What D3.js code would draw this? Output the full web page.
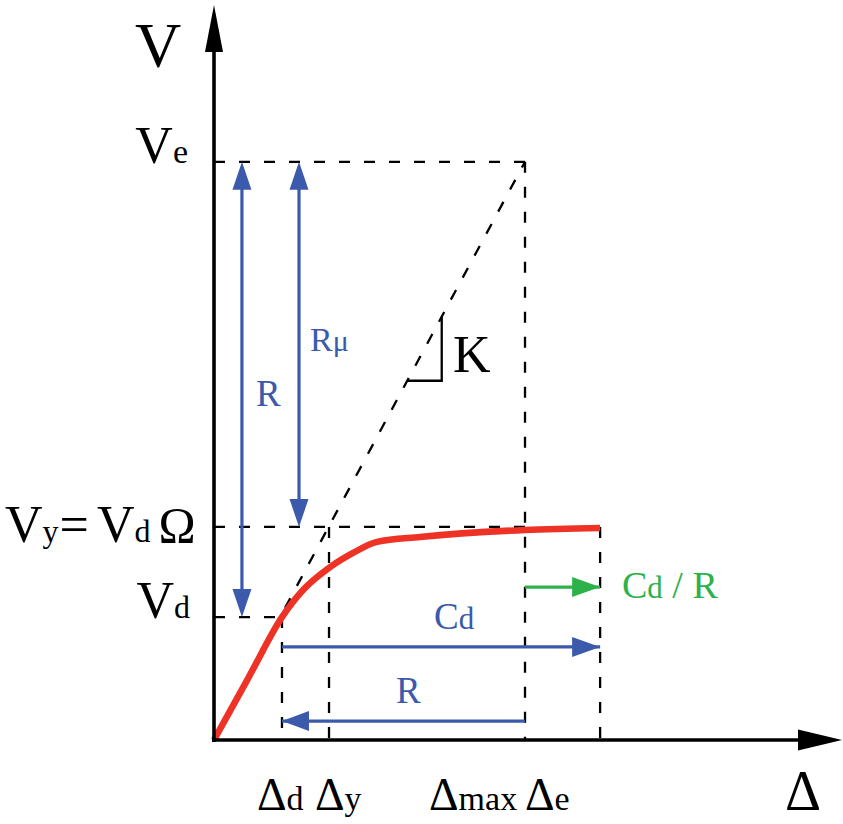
<!DOCTYPE html>
<html>
<head>
<meta charset="utf-8">
<script src="https://cdn.jsdelivr.net/npm/d3@7"></script>
<style>
  html, body { margin: 0; padding: 0; background: #fff; }
  svg { display: block; }
  text { font-family: "Liberation Serif", "Times New Roman", serif; }
</style>
</head>
<body>
<svg id="chart" width="843" height="824"></svg>
<script>
// ---------- data (abstract units: Δy = 1, Vy = 1) ----------
const curveDelta = [0, 0.30, 0.591, 0.774, 1.0, 1.209, 1.417, 1.791, 2.704, 3.357];
const curveV     = [0, 0.293, 0.577, 0.704, 0.808, 0.878, 0.930, 0.953, 0.986, 0.995];

const deltaNames  = ["Δd", "Δy", "Δe", "Δend"];
const deltaValues = [0.591, 1.0, 2.704, 3.357];
const vNames  = ["Vd", "Vy", "Ve"];
const vValues = [0.577, 1.0, 2.714];

const xDomain = [0, 5.46];
const yDomain = [0, 3.45];

// ---------- setup ----------
const svg = d3.select("#chart");
const x = d3.scaleLinear().domain(xDomain).range([214, 842]);
const y = d3.scaleLinear().domain(yDomain).range([740, 5]);

const D = Object.fromEntries(deltaNames.map((n, i) => [n, deltaValues[i]]));
const V = Object.fromEntries(vNames.map((n, i) => [n, vValues[i]]));

const BLUE = "#3b5aab", GREEN = "#2db24b", RED = "#ee3226", BLACK = "#000";

function arrowHead(g, tx, ty, dir, len, wid, color) {
  let pts;
  const h = wid / 2;
  if (dir === "up")    pts = [[tx, ty], [tx - h, ty + len], [tx + h, ty + len]];
  if (dir === "down")  pts = [[tx, ty], [tx - h, ty - len], [tx + h, ty - len]];
  if (dir === "left")  pts = [[tx, ty], [tx + len, ty - h], [tx + len, ty + h]];
  if (dir === "right") pts = [[tx, ty], [tx - len, ty - h], [tx - len, ty + h]];
  g.append("path").attr("d", "M" + pts.map(p => p.join(",")).join("L") + "Z").attr("fill", color);
}

// ---------- dashed guide lines ----------
const dashes = [
  [[0, V.Ve], [D.Δe, V.Ve]],
  [[0, V.Vy], [D.Δe, V.Vy]],
  [[0, V.Vd], [D.Δd, V.Vd]],
  [[D.Δd, V.Vd], [D.Δd, 0]],
  [[D.Δy, V.Vy], [D.Δy, 0]],
  [[D.Δe, V.Ve], [D.Δe, 0]],
  [[D.Δend, V.Vy], [D.Δend, 0]],
  [[0, 0], [D.Δe, V.Ve]]
];
const gDash = svg.append("g");
dashes.forEach(([a, b]) => {
  gDash.append("line")
    .attr("x1", x(a[0])).attr("y1", y(a[1]))
    .attr("x2", x(b[0])).attr("y2", y(b[1]))
    .attr("stroke", BLACK).attr("stroke-width", 2.3)
    .attr("stroke-dasharray", "11,14");
});

// slope triangle K
const kLo = 1.68, kHi = 1.98;
const kSlope = V.Ve / D.Δe;
svg.append("path")
  .attr("d", `M${x(kLo)},${y(kLo * kSlope)}H${x(kHi)}V${y(kHi * kSlope)}`)
  .attr("fill", "none").attr("stroke", BLACK).attr("stroke-width", 2.3);

// ---------- blue / green arrows ----------
const gArr = svg.append("g");
function vArrow(xv, v1, v2, heads, color) {
  const px = x(xv);
  gArr.append("line").attr("x1", px).attr("x2", px)
    .attr("y1", y(v1) + 20).attr("y2", y(v2) - 20)
    .attr("stroke", color).attr("stroke-width", 3.2);
  if (heads.includes("top")) arrowHead(gArr, px, y(v1), "up", 28, 19, color);
  if (heads.includes("bottom")) arrowHead(gArr, px, y(v2), "down", 28, 19, color);
}
function hArrow(vv, d1, d2, head, color) {
  const py = y(vv);
  gArr.append("line").attr("y1", py).attr("y2", py)
    .attr("x1", x(d1)).attr("x2", x(d2))
    .attr("stroke", color).attr("stroke-width", 3.2);
  if (head === "right") arrowHead(gArr, x(d2), py, "right", 28, 20, color);
  if (head === "left") arrowHead(gArr, x(d1), py, "left", 27, 20, color);
}
vArrow(0.243, V.Ve, V.Vd, ["top", "bottom"], BLUE);
vArrow(0.739, V.Ve, V.Vy, ["top", "bottom"], BLUE);
hArrow(0.437, D.Δd, D.Δend, "right", BLUE);
hArrow(0.089, D.Δd, D.Δe, "left", BLUE);
hArrow(0.718, D.Δe, D.Δend, "right", GREEN);

// ---------- red curve ----------
const pts = curveDelta.map((d, i) => [d, curveV[i]]);
svg.append("path")
  .attr("d", d3.line().x(d => x(d[0])).y(d => y(d[1])).curve(d3.curveMonotoneX)(pts))
  .attr("fill", "none").attr("stroke", RED).attr("stroke-width", 6.5)
  .attr("stroke-linejoin", "round");

// ---------- axes ----------
const gAx = svg.append("g");
gAx.append("line").attr("x1", x(0)).attr("x2", x(0)).attr("y1", y(0) + 2).attr("y2", y(yDomain[1]) + 30)
  .attr("stroke", BLACK).attr("stroke-width", 3.6);
arrowHead(gAx, x(0), y(yDomain[1]), "up", 47, 18, BLACK);
gAx.append("line").attr("x1", x(0) - 2).attr("x2", x(xDomain[1]) - 30).attr("y1", y(0)).attr("y2", y(0))
  .attr("stroke", BLACK).attr("stroke-width", 3.6);
arrowHead(gAx, x(xDomain[1]), y(0), "right", 44, 21, BLACK);

// ---------- labels ----------
function label(px, py, parts, opts = {}) {
  const t = svg.append("text").attr("x", px).attr("y", py)
    .attr("text-anchor", opts.anchor || "start")
    .attr("fill", opts.color || BLACK);
  parts.forEach(p => {
    const s = t.append("tspan").text(p.t).attr("font-size", p.s);
    if (p.dx) s.attr("dx", p.dx);
  });
  return t;
}
// axis titles
label(158, 67, [{t: "V", s: 64}], {anchor: "middle"});
label(803, 810, [{t: "Δ", s: 56}], {anchor: "middle"});

// V-axis labels
label(188, 163, [{t: "V", s: 52}, {t: "e", s: 34}], {anchor: "end"});
label(5, 542, [{t: "V", s: 52}, {t: "y", s: 32}, {t: "=", s: 52, dx: 1}, {t: "V", s: 52, dx: 8},
               {t: "d", s: 32}, {t: "Ω", s: 50, dx: 8}]);
label(190, 618, [{t: "V", s: 52}, {t: "d", s: 32}], {anchor: "end"});

// Δ-axis labels
label(257, 810, [{t: "Δ", s: 46}, {t: "d", s: 34}]);
label(315, 810, [{t: "Δ", s: 46}, {t: "y", s: 34}]);
label(429, 810, [{t: "Δ", s: 46}, {t: "max", s: 34}]);
label(525, 810, [{t: "Δ", s: 46}, {t: "e", s: 34}]);

// annotations
label(453, 372, [{t: "K", s: 52}]);
label(256, 406, [{t: "R", s: 37}], {color: BLUE});
label(310, 351, [{t: "R", s: 34}, {t: "μ", s: 30}], {color: BLUE});
label(434, 629, [{t: "C", s: 37}, {t: "d", s: 31}], {color: BLUE});
label(396, 703, [{t: "R", s: 37}], {color: BLUE});
label(622, 598, [{t: "C", s: 38}, {t: "d", s: 31}, {t: " / R", s: 38}], {color: GREEN});
</script>
</body>
</html>
